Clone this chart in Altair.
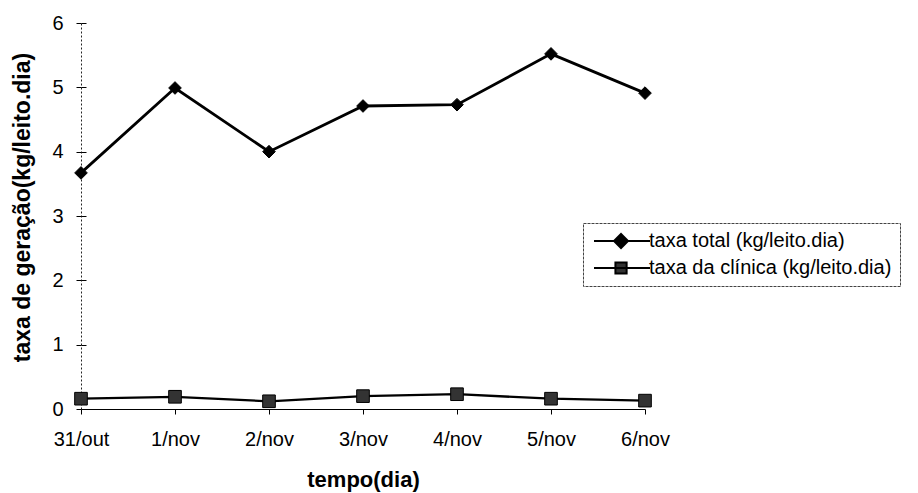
import altair as alt
import pandas as pd

# Daily waste generation rates (kg per bed per day)
dias = ["31/out", "1/nov", "2/nov", "3/nov", "4/nov", "5/nov", "6/nov"]
taxa_total = [3.67, 4.99, 4.00, 4.71, 4.73, 5.52, 4.91]
taxa_clinica = [0.16, 0.19, 0.12, 0.20, 0.23, 0.16, 0.13]

serie_total = "taxa total (kg/leito.dia)"
serie_clinica = "taxa da clínica (kg/leito.dia)"
series = [serie_total, serie_clinica]
marcas_y = [0, 1, 2, 3, 4, 5, 6]

df = pd.concat([
    pd.DataFrame({"dia": dias, "valor": taxa_total, "serie": serie_total}),
    pd.DataFrame({"dia": dias, "valor": taxa_clinica, "serie": serie_clinica}),
], ignore_index=True)

FONT = "Liberation Sans"

x_enc = alt.X(
    "dia:O", sort=dias, scale=alt.Scale(type="point", padding=0),
    axis=alt.Axis(title="tempo(dia)", labelAngle=0, tickSize=5, labelPadding=15,
                  titlePadding=20, labelFontSize=20, titleFontSize=22,
                  titleFontWeight="bold", domainColor="black", tickColor="black",
                  labelColor="black", titleColor="black", labelFont=FONT, titleFont=FONT),
)
y_scale = alt.Scale(domain=[0, 6], nice=False, zero=True)
y_main = alt.Y(
    "valor:Q", scale=y_scale,
    axis=alt.Axis(title="taxa de geração(kg/leito.dia)", values=marcas_y,
                  grid=False, tickSize=5, labelPadding=13, titleX=-47, titleY=184,
                  labelFontSize=20, titleFontSize=23, titleFontWeight="bold",
                  domainColor="#222", domainDash=[2, 2], tickColor="black",
                  labelColor="black", titleColor="black", labelFont=FONT, titleFont=FONT),
)
y_plain = alt.Y("valor:Q", scale=y_scale, axis=None)
# inner half of the crossing y ticks
y_inner = alt.Y(
    "valor:Q", scale=y_scale,
    axis=alt.Axis(orient="left", offset=-5, values=marcas_y, grid=False,
                  labels=False, domain=False, tickSize=5, tickColor="black", title=None),
)

linhas = alt.Chart(df).mark_line(color="black").encode(
    x=x_enc, y=y_main, detail="serie:N",
    strokeWidth=alt.StrokeWidth("serie:N", scale=alt.Scale(domain=series, range=[2.8, 2.3]),
                                legend=None),
)

pontos = alt.Chart(df).mark_point(filled=True, opacity=1, stroke="black", strokeWidth=1,
                                  size=160).encode(
    x=x_enc, y=y_plain,
    shape=alt.Shape("serie:N", scale=alt.Scale(domain=series, range=["diamond", "square"]),
                    legend=None),
    fill=alt.Fill("serie:N", scale=alt.Scale(domain=series, range=["black", "#333333"]),
                  legend=None),
)

marcas_eixo = alt.Chart(df).transform_filter("false").mark_point().encode(
    x=x_enc, y=y_inner,
)

# legend symbols: line stub with marker in the middle
sym_total = "M-1,0H7M2.86,-1L3.86,0L2.86,1L1.86,0Z"
sym_clinica = "M-1,0H7M2.06,-0.8H3.66V0.8H2.06Z"

leg = alt.Legend(title=None, orient="none", legendX=502, legendY=200,
                 labelFontSize=20, labelFont=FONT, labelColor="black", labelLimit=500,
                 labelOffset=38, symbolSize=196, symbolStrokeWidth=2,
                 symbolStrokeColor="black", rowPadding=6, padding=8,
                 strokeColor="#444")

legenda = alt.Chart(df).transform_filter("false").mark_point(
    filled=True, opacity=1, strokeWidth=2).encode(
    x=x_enc, y=y_plain,
    shape=alt.Shape("serie:N", scale=alt.Scale(domain=series, range=[sym_total, sym_clinica]),
                    legend=leg),
    fill=alt.Fill("serie:N", scale=alt.Scale(domain=series, range=["black", "#333333"]),
                  legend=leg),
    stroke=alt.Stroke("serie:N", scale=alt.Scale(domain=series, range=["black", "black"]),
                      legend=leg),
)

chart = alt.layer(linhas, pontos, marcas_eixo, legenda).resolve_scale(
    shape="independent", fill="independent", stroke="independent"
).resolve_axis(y="independent").properties(
    width=564, height=386,
    background="white",
    autosize=alt.AutoSizeParams(type="none"),
    padding={"left": 81, "top": 23, "right": 273, "bottom": 84},
).configure_view(stroke=None).configure_legend(
    strokeColor="#444", strokeDash=[3, 1]
)

chart.save("out.html", embed_options={"renderer": "svg", "actions": False})
